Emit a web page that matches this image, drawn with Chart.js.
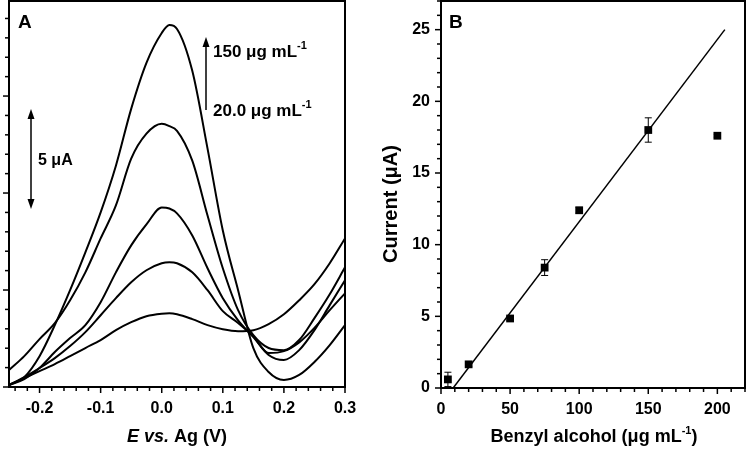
<!DOCTYPE html>
<html>
<head>
<meta charset="utf-8">
<script src="https://cdn.jsdelivr.net/npm/chart.js@4.4.0/dist/chart.umd.min.js"></script>
<style>
  html, body { margin: 0; padding: 0; background: #fff; }
  #wrap { position: relative; width: 749px; height: 449px; overflow: hidden; }
  .panel { position: absolute; top: 0; height: 449px; }
  #panelA { left: 0; width: 370px; }
  #panelB { left: 370px; width: 379px; }
</style>
</head>
<body>
<div id="wrap">
  <div class="panel" id="panelA"><canvas id="chartA"></canvas></div>
  <div class="panel" id="panelB"><canvas id="chartB"></canvas></div>
</div>
<script>
// Panel A - voltammograms (potential in V, current in uA, arbitrary baseline)
var potentials = [-0.25, -0.225, -0.2, -0.175, -0.15, -0.125, -0.1, -0.075, -0.05, -0.025, 0, 0.0125, 0.025, 0.05, 0.075, 0.1, 0.125, 0.15, 0.175, 0.2, 0.225, 0.25, 0.275, 0.3];
var current20 = [0.10, 0.46, 0.82, 1.18, 1.59, 2.01, 2.42, 2.93, 3.34, 3.65, 3.78, 3.80, 3.75, 3.50, 3.19, 2.98, 2.88, 2.93, 3.24, 3.75, 4.47, 5.30, 6.38, 7.66];
var current50 = [0.10, 0.51, 0.98, 1.49, 2.11, 2.83, 3.70, 4.58, 5.40, 6.02, 6.38, 6.43, 6.38, 5.91, 4.99, 3.91, 3.30, 2.60, 1.75, 1.85, 2.30, 3.05, 3.96, 4.83];
var current75 = [0.10, 0.41, 0.98, 1.80, 2.52, 3.19, 4.37, 5.91, 7.30, 8.38, 9.25, 9.20, 8.95, 7.81, 6.12, 4.58, 3.44, 2.57, 1.65, 1.39, 1.90, 2.93, 4.22, 5.50];
var current100 = [0.87, 1.59, 2.47, 3.29, 4.47, 5.91, 7.66, 9.36, 11.77, 13.06, 13.57, 13.45, 13.21, 11.67, 8.84, 6.12, 3.96, 2.67, 2.01, 1.90, 2.42, 3.55, 4.78, 6.17];
var current150 = [0.10, 0.51, 1.59, 3.19, 4.99, 6.94, 9.00, 11.41, 14.34, 16.71, 18.25, 18.66, 18.46, 16.30, 12.29, 8.07, 4.99, 2.00, 0.77, 0.36, 0.62, 1.29, 2.16, 3.19];
var potentialTicks = [-0.2, -0.1, 0.0, 0.1, 0.2, 0.3];

// Panel B - calibration
var concentrations = [5, 20, 50, 75, 100, 150, 200];
var peakCurrents = [0.6, 1.65, 4.85, 8.4, 12.4, 18.0, 17.6];
var currentErrors = [0.5, 0.15, 0.15, 0.55, 0.2, 0.85, 0.1];
var fitX = [8.8, 205.4];
var fitY = [0, 25];
var concTicks = [0, 50, 100, 150, 200];
var currentTicks = [0, 5, 10, 15, 20, 25];

var FONT = "'Liberation Sans', Arial, sans-serif";

function xy(xs, ys) {
    return xs.map(function (x, i) { return { x: x, y: ys[i] }; });
}

// draws text pieces in a row, e.g. superscripts or italic words
function drawRich(ctx, parts, x, y, align) {
    var total = 0;
    parts.forEach(function (p) { ctx.font = p.font; total += ctx.measureText(p.t).width; });
    var cx = align === "center" ? x - total / 2 : x;
    ctx.textAlign = "left";
    ctx.textBaseline = "alphabetic";
    parts.forEach(function (p) {
        ctx.font = p.font;
        ctx.fillText(p.t, cx, y + (p.dy || 0));
        cx += ctx.measureText(p.t).width;
    });
}

function arrowHead(ctx, x, y, dir) {
    ctx.beginPath();
    ctx.moveTo(x, y);
    ctx.lineTo(x - 3.5, y - dir * 10);
    ctx.lineTo(x + 3.5, y - dir * 10);
    ctx.closePath();
    ctx.fill();
}

// stop the scales from reserving room for half labels at the ends
function noScalePadding(s) {
    s.paddingTop = 0;
    s.paddingBottom = 0;
    s.paddingLeft = 0;
    s.paddingRight = 0;
}

// box + major/minor tick marks
var framePlugin = {
    id: "frame",
    afterDraw: function (chart, args, opts) {
        var ctx = chart.ctx, a = chart.chartArea;
        var xs = chart.scales.x, ys = chart.scales.y;
        ctx.save();
        ctx.strokeStyle = "#000";
        ctx.lineWidth = 1.5;
        var i, v, p, len;
        for (i = Math.ceil(xs.min / opts.xMinor - 1e-6); i * opts.xMinor <= xs.max + 1e-9; i++) {
            v = i * opts.xMinor;
            p = xs.getPixelForValue(v);
            len = Math.abs(v / opts.xMajor - Math.round(v / opts.xMajor)) < 1e-6 ? 6 : 4;
            ctx.beginPath(); ctx.moveTo(p, a.bottom); ctx.lineTo(p, a.bottom + len); ctx.stroke();
        }
        for (i = Math.ceil(ys.min / opts.yMinor - 1e-6); i * opts.yMinor <= ys.max + 1e-9; i++) {
            v = i * opts.yMinor;
            p = ys.getPixelForValue(v);
            len = Math.abs(v / opts.yMajor - Math.round(v / opts.yMajor)) < 1e-6 ? 6 : 4;
            ctx.beginPath(); ctx.moveTo(a.left, p); ctx.lineTo(a.left - len, p); ctx.stroke();
        }
        ctx.lineWidth = 2;
        ctx.strokeRect(a.left, a.top, a.right - a.left, a.bottom - a.top);
        ctx.restore();
    }
};

var annotA = {
    id: "annotA",
    afterDraw: function (chart) {
        var ctx = chart.ctx;
        ctx.save();
        ctx.fillStyle = "#000";
        ctx.strokeStyle = "#000";
        ctx.font = "bold 19px " + FONT;
        ctx.fillText("A", 18, 28);
        // concentration arrow
        ctx.lineWidth = 1.5;
        ctx.beginPath(); ctx.moveTo(206, 110); ctx.lineTo(206, 44); ctx.stroke();
        arrowHead(ctx, 206, 37, -1);
        drawRich(ctx, [
            { t: "150 \u03bcg mL", font: "bold 17px " + FONT },
            { t: "-1", font: "bold 11px " + FONT, dy: -8 }
        ], 213, 57, "left");
        drawRich(ctx, [
            { t: "20.0 \u03bcg mL", font: "bold 17px " + FONT },
            { t: "-1", font: "bold 11px " + FONT, dy: -8 }
        ], 213, 116, "left");
        // 5 uA scale bar
        ctx.beginPath(); ctx.moveTo(31, 116); ctx.lineTo(31, 202); ctx.stroke();
        arrowHead(ctx, 31, 109, -1);
        arrowHead(ctx, 31, 209, 1);
        drawRich(ctx, [{ t: "5 \u03bcA", font: "bold 16px " + FONT }], 38, 165, "left");
        // axis title
        drawRich(ctx, [
            { t: "E", font: "italic bold 18px " + FONT },
            { t: " vs.", font: "italic bold 18px " + FONT },
            { t: " Ag (V)", font: "bold 18px " + FONT }
        ], 177, 442, "center");
        ctx.restore();
    }
};

var annotB = {
    id: "annotB",
    afterDraw: function (chart) {
        var ctx = chart.ctx;
        ctx.save();
        ctx.fillStyle = "#000";
        ctx.font = "bold 19px " + FONT;
        ctx.fillText("B", 79, 28);
        drawRich(ctx, [
            { t: "Benzyl alcohol (\u03bcg mL", font: "bold 18px " + FONT },
            { t: "-1", font: "bold 11px " + FONT, dy: -8 },
            { t: ")", font: "bold 18px " + FONT }
        ], 224, 442, "center");
        ctx.translate(27, 204);
        ctx.rotate(-Math.PI / 2);
        drawRich(ctx, [{ t: "Current (\u03bcA)", font: "bold 20px " + FONT }], 0, 0, "center");
        ctx.restore();
    }
};

var errorBars = {
    id: "errorBars",
    afterDatasetsDraw: function (chart) {
        var ctx = chart.ctx, xs = chart.scales.x, ys = chart.scales.y;
        ctx.save();
        ctx.strokeStyle = "#000";
        ctx.lineWidth = 1;
        concentrations.forEach(function (c, i) {
            var px = xs.getPixelForValue(c);
            var top = ys.getPixelForValue(peakCurrents[i] + currentErrors[i]);
            var bot = ys.getPixelForValue(peakCurrents[i] - currentErrors[i]);
            ctx.beginPath();
            ctx.moveTo(px, top); ctx.lineTo(px, bot);
            ctx.moveTo(px - 3.5, top); ctx.lineTo(px + 3.5, top);
            ctx.moveTo(px - 3.5, bot); ctx.lineTo(px + 3.5, bot);
            ctx.stroke();
        });
        ctx.restore();
    }
};

document.addEventListener("DOMContentLoaded", function () {
    Chart.defaults.font.family = FONT;
    Chart.defaults.color = "#000";

    var curveStyle = {
        borderColor: "#000",
        borderWidth: 2,
        pointRadius: 0,
        cubicInterpolationMode: "monotone",
        fill: false
    };

    // Voltammograms
    var chartA = new Chart(document.getElementById("chartA"), {
        type: "line",
        data: {
            datasets: [current20, current50, current75, current100, current150].map(function (c) {
                return Object.assign({ data: xy(potentials, c) }, curveStyle);
            })
        },
        options: {
            responsive: true,
            maintainAspectRatio: false,
            animation: false,
            layout: { autoPadding: false, padding: { top: 1, right: 25, left: 0, bottom: 0 } },
            plugins: {
                legend: { display: false },
                tooltip: { enabled: false },
                frame: { xMinor: 0.02, xMajor: 0.1, yMinor: 1, yMajor: 5 }
            },
            scales: {
                x: {
                    type: "linear",
                    min: -0.25,
                    max: 0.3,
                    grid: { display: false, drawTicks: false },
                    border: { display: false },
                    afterBuildTicks: function (s) { s.ticks = potentialTicks.map(function (v) { return { value: v }; }); },
                    afterFit: function (s) { s.height = 62; noScalePadding(s); },
                    ticks: {
                        padding: 12,
                        font: { size: 16, weight: "bold" },
                        callback: function (v) { return Number(v).toFixed(1); }
                    }
                },
                y: {
                    min: 0,
                    max: 19.9,
                    grid: { display: false, drawTicks: false },
                    border: { display: false },
                    ticks: { display: false },
                    afterFit: function (s) { s.width = 9; noScalePadding(s); }
                }
            }
        },
        plugins: [framePlugin, annotA]
    });

    // Calibration plot
    var chartB = new Chart(document.getElementById("chartB"), {
        type: "scatter",
        data: {
            datasets: [{
                type: "line",
                data: xy(fitX, fitY),
                borderColor: "#000",
                borderWidth: 1.5,
                pointRadius: 0
            }, {
                data: xy(concentrations, peakCurrents),
                pointStyle: "rect",
                pointRadius: 5.5,
                backgroundColor: "#000",
                borderColor: "#000",
                borderWidth: 0
            }]
        },
        options: {
            responsive: true,
            maintainAspectRatio: false,
            animation: false,
            layout: { autoPadding: false, padding: { top: 1, right: 4, left: 0, bottom: 0 } },
            plugins: {
                legend: { display: false },
                tooltip: { enabled: false },
                frame: { xMinor: 10, xMajor: 50, yMinor: 1, yMajor: 5 }
            },
            scales: {
                x: {
                    type: "linear",
                    min: 0,
                    max: 220,
                    grid: { display: false, drawTicks: false },
                    border: { display: false },
                    afterBuildTicks: function (s) { s.ticks = concTicks.map(function (v) { return { value: v }; }); },
                    afterFit: function (s) { s.height = 61; noScalePadding(s); },
                    ticks: { padding: 12, font: { size: 16, weight: "bold" } }
                },
                y: {
                    min: 0,
                    max: 27,
                    grid: { display: false, drawTicks: false },
                    border: { display: false },
                    afterBuildTicks: function (s) { s.ticks = currentTicks.map(function (v) { return { value: v }; }); },
                    afterFit: function (s) { s.width = 71; noScalePadding(s); },
                    ticks: { padding: 11, font: { size: 16, weight: "bold" } }
                }
            }
        },
        plugins: [errorBars, framePlugin, annotB]
    });
});
</script>
</body>
</html>
